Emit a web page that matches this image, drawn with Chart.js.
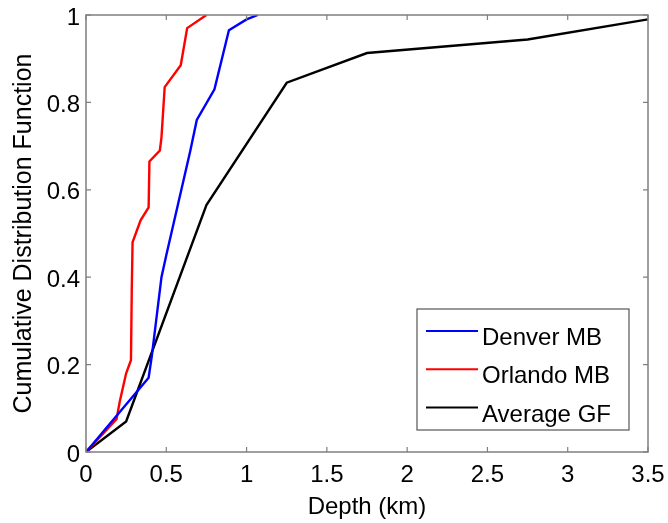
<!DOCTYPE html>
<html>
<head>
<meta charset="utf-8">
<script src="https://cdn.jsdelivr.net/npm/chart.js@4"></script>
<style>
  html, body { margin: 0; padding: 0; background: #fff; }
  #grafica { display: block; }
</style>
</head>
<body>
<canvas id="grafica" width="668" height="523"></canvas>
<script>
// datos
const denverDepth = [0, 0.39, 0.41, 0.47, 0.50, 0.65, 0.69, 0.80, 0.89, 1.00, 1.07];
const denverCdf   = [0, 0.17, 0.22, 0.40, 0.45, 0.69, 0.76, 0.83, 0.965, 0.99, 1.0];

const orlandoDepth = [0, 0.19, 0.21, 0.25, 0.28, 0.285, 0.29, 0.34, 0.39, 0.395, 0.46, 0.47, 0.49, 0.59, 0.63, 0.75];
const orlandoCdf   = [0, 0.075, 0.115, 0.18, 0.21, 0.37, 0.48, 0.53, 0.56, 0.665, 0.69, 0.72, 0.835, 0.885, 0.97, 1.0];

const averageDepth = [0, 0.25, 0.75, 1.25, 1.75, 2.75, 3.5];
const averageCdf   = [0, 0.07, 0.565, 0.845, 0.913, 0.944, 0.99];

const xTicks = [0, 0.5, 1, 1.5, 2, 2.5, 3, 3.5];
const yTicks = [0, 0.2, 0.4, 0.6, 0.8, 1];

const nombres = ['Denver MB', 'Orlando MB', 'Average GF'];
const colores = ['#0000ff', '#ff0000', '#000000'];

function pares(xs, ys){
  return xs.map((x, i) => ({x: x, y: ys[i]}));
}

const fuente = "'Liberation Sans', Arial, sans-serif";

// caja estilo matlab con ticks hacia dentro + leyenda
const cajaMatlab = {
  id: 'cajaMatlab',
  afterDatasetsDraw(chart){
    const ctx = chart.ctx;
    const a = chart.chartArea;
    const sx = chart.scales.x, sy = chart.scales.y;
    ctx.save();
    ctx.strokeStyle = '#7f7f7f';
    ctx.lineWidth = 1.5;
    ctx.strokeRect(a.left, a.top, a.right - a.left, a.bottom - a.top);
    ctx.lineWidth = 1.2;
    const largo = 5;
    ctx.beginPath();
    xTicks.forEach(v => {
      const p = sx.getPixelForValue(v);
      ctx.moveTo(p, a.bottom); ctx.lineTo(p, a.bottom - largo);
      ctx.moveTo(p, a.top); ctx.lineTo(p, a.top + largo);
    });
    yTicks.forEach(v => {
      const p = sy.getPixelForValue(v);
      ctx.moveTo(a.left, p); ctx.lineTo(a.left + largo, p);
      ctx.moveTo(a.right, p); ctx.lineTo(a.right - largo, p);
    });
    ctx.stroke();

    // leyenda
    const lx = 417, ly = 309, lw = 212, lh = 121;
    ctx.fillStyle = '#fff';
    ctx.fillRect(lx, ly, lw, lh);
    ctx.strokeStyle = '#555';
    ctx.lineWidth = 1.2;
    ctx.strokeRect(lx, ly, lw, lh);
    ctx.font = '24px ' + fuente;
    ctx.textBaseline = 'alphabetic';
    chart.data.datasets.forEach((ds, i) => {
      const y = ly + 22 + i * 38.3;
      ctx.strokeStyle = ds.borderColor;
      ctx.lineWidth = 2;
      ctx.beginPath();
      ctx.moveTo(426, y); ctx.lineTo(478, y);
      ctx.stroke();
      ctx.fillStyle = '#000';
      ctx.fillText(ds.label, 482, y + 14);
    });
    ctx.restore();
  }
};

const grafica = new Chart(document.getElementById('grafica'), {
  type: 'scatter',
  data: {
    datasets: [
      {label: nombres[0], data: pares(denverDepth, denverCdf), borderColor: colores[0]},
      {label: nombres[1], data: pares(orlandoDepth, orlandoCdf), borderColor: colores[1]},
      {label: nombres[2], data: pares(averageDepth, averageCdf), borderColor: colores[2]}
    ].map(ds => Object.assign(ds, {showLine: true, borderWidth: 2.4, pointRadius: 0, tension: 0, fill: false}))
  },
  options: {
    responsive: false,
    animation: false,
    layout: { padding: {left: 0, right: 20, top: 15, bottom: 0} },
    plugins: { legend: {display: false}, tooltip: {enabled: false} },
    scales: {
      x: {
        type: 'linear', min: 0, max: 3.5,
        afterBuildTicks: s => { s.ticks = xTicks.map(v => ({value: v})); },
        afterFit: s => { s.height = 71; s.paddingLeft = 0; s.paddingRight = 0; },
        grid: {display: false, drawTicks: false},
        border: {display: false},
        ticks: {color: '#000', font: {family: fuente, size: 24}, padding: 9, maxRotation: 0,
                callback: v => String(v)},
        title: {display: true, text: 'Depth (km)', color: '#000', font: {family: fuente, size: 24}, padding: {top: 0, bottom: 1}}
      },
      y: {
        type: 'linear', min: 0, max: 1,
        afterBuildTicks: s => { s.ticks = yTicks.map(v => ({value: v})); },
        afterFit: s => { s.width = 86; s.paddingTop = 0; s.paddingBottom = 0; },
        grid: {display: false, drawTicks: false},
        border: {display: false},
        ticks: {color: '#000', font: {family: fuente, size: 24}, padding: 6, labelOffset: 3,
                callback: v => String(v)},
        title: {display: true, text: 'Cumulative Distribution Function', color: '#000', font: {family: fuente, size: 25}, padding: {top: 9, bottom: 0}}
      }
    }
  },
  plugins: [cajaMatlab]
});
</script>
</body>
</html>
